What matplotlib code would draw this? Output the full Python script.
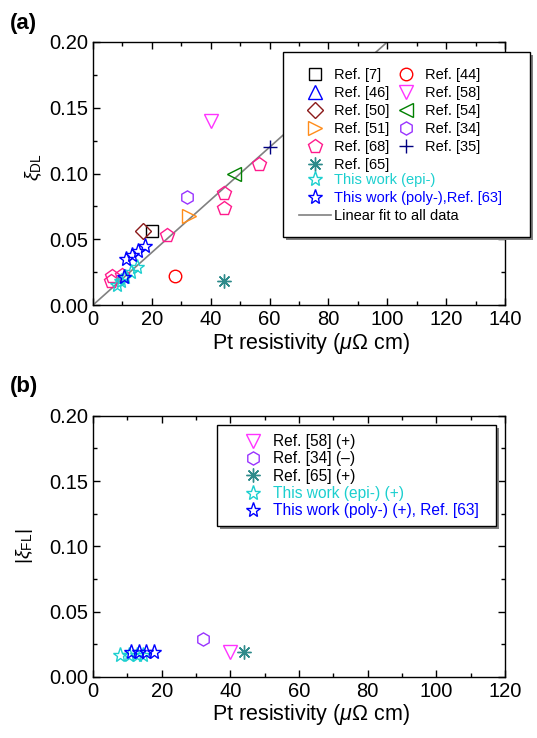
import numpy as np
import matplotlib
matplotlib.use("Agg")
import matplotlib.pyplot as plt
from matplotlib.patches import Rectangle
from matplotlib.lines import Line2D

plt.rcParams['font.family'] = ['Liberation Sans', 'DejaVu Sans']
plt.rcParams['mathtext.fontset'] = 'custom'
plt.rcParams['mathtext.rm'] = 'Liberation Sans'
plt.rcParams['mathtext.it'] = 'Liberation Sans:italic'

# ---------------- data: panel (a), damping-like efficiency
ref7_x, ref7_y = [20], [0.056]
ref46_x, ref46_y = [], []
ref50_x, ref50_y = [17], [0.056]
ref51_x, ref51_y = [32.5], [0.068]
ref68_x = [56.5, 44.5, 44.5, 25, 6.3, 6, 10]
ref68_y = [0.107, 0.085, 0.074, 0.053, 0.022, 0.018, 0.023]
ref65_x, ref65_y = [44.5], [0.018]
epi_x = [8, 9.5, 11, 12.8, 14.8]
epi_y = [0.015, 0.018, 0.021, 0.025, 0.029]
poly_x = [17.6, 15.3, 13.3, 11.2, 10.5]
poly_y = [0.045, 0.041, 0.038, 0.035, 0.021]
ref44_x, ref44_y = [28], [0.022]
ref58_x, ref58_y = [40], [0.140]
ref54_x, ref54_y = [48], [0.100]
ref34_x, ref34_y = [32], [0.082]
ref35_x, ref35_y = [60], [0.120]
fit_slope, fit_icpt = 0.002, 0.0
fit_x = [0, 100]

# ---------------- data: panel (b), field-like efficiency
b58_x, b58_y = [40], [0.019]
b34_x, b34_y = [32], [0.029]
b65_x, b65_y = [44], [0.019]
bepi_x = [8, 10.5, 12.8, 14.6]
bepi_y = [0.017, 0.017, 0.017, 0.017]
bpoly_x = [11.2, 13.3, 15.5, 17.8]
bpoly_y = [0.019, 0.019, 0.019, 0.019]

C_EPI = '#1ccfcf'
C_POLY = '#0000ff'
C_TEAL = '#2e8b8b'
C_PINK = '#ff1a8c'
C_MAG = '#ff33ff'
C_PURP = '#9933ff'

ms = 9
xlab = r'Pt resistivity ($\mu\Omega$ cm)'
W, H = 537.0, 738.0


def style_axes(ax, xmax):
    ax.set_xlim(0, xmax)
    ax.set_ylim(0, 0.2)
    ax.set_xticks(np.arange(0, xmax + 1, 20))
    ax.set_xticks(np.arange(0, xmax + 1, 10), minor=True)
    ax.set_yticks(np.arange(0, 0.201, 0.05))
    ax.set_yticks(np.arange(0, 0.201, 0.025), minor=True)
    ax.yaxis.set_major_formatter(matplotlib.ticker.FormatStrFormatter('%.2f'))
    ax.tick_params(which='both', direction='in', top=True, right=True,
                   labelsize=14.5, width=1)
    ax.tick_params(which='major', length=5)
    ax.tick_params(which='minor', length=3)
    for s in ax.spines.values():
        s.set_linewidth(1)


def pts(ax, x, y, mk, c, label, size=ms, mew=1.0):
    h, = ax.plot(x, y, linestyle='none', marker=mk, ms=size, mfc='none',
                 mec=c, mew=mew, label=label)
    return h


def box(fig, x0, y0, x1, y1):
    # white legend frame with grey drop shadow, pixel coords from top-left
    fig.patches.append(Rectangle((x0 / W + 3 / W, 1 - y1 / H - 3 / H),
                                 (x1 - x0) / W, (y1 - y0) / H,
                                 transform=fig.transFigure, facecolor='#808080',
                                 edgecolor='none', zorder=2))
    fig.patches.append(Rectangle((x0 / W, 1 - y1 / H), (x1 - x0) / W,
                                 (y1 - y0) / H, transform=fig.transFigure,
                                 facecolor='white', edgecolor='black', lw=1,
                                 zorder=3))


fig = plt.figure(figsize=(5.37, 7.38), dpi=100)
ax1 = fig.add_axes([0.1732, 0.5867, 0.7672, 0.3564])
ax2 = fig.add_axes([0.1732, 0.0827, 0.7672, 0.354])

# ---------------- panel (a)
ax1.plot(fit_x, [fit_slope * v + fit_icpt for v in fit_x], color='#808080', lw=1.2)
h7 = pts(ax1, ref7_x, ref7_y, 's', 'black', 'Ref. [7]', 8.5)
h46 = pts(ax1, ref46_x, ref46_y, '^', 'blue', 'Ref. [46]', 10)
h50 = pts(ax1, ref50_x, ref50_y, 'D', '#8b1a1a', 'Ref. [50]', 8)
h51 = pts(ax1, ref51_x, ref51_y, '>', '#ff8c1a', 'Ref. [51]', 10)
h68 = pts(ax1, ref68_x, ref68_y, 'p', C_PINK, 'Ref. [68]', 10)
h65 = pts(ax1, ref65_x, ref65_y, (8, 2, 0), C_TEAL, 'Ref. [65]', 10)
hepi = pts(ax1, epi_x, epi_y, '*', C_EPI, 'This work (epi-)', 11)
hpoly = pts(ax1, poly_x, poly_y, '*', C_POLY, 'This work (poly-),Ref. [63]', 11)
h44 = pts(ax1, ref44_x, ref44_y, 'o', 'red', 'Ref. [44]', 9)
h58 = pts(ax1, ref58_x, ref58_y, 'v', C_MAG, 'Ref. [58]', 10)
h54 = pts(ax1, ref54_x, ref54_y, '<', 'green', 'Ref. [54]', 10)
h34 = pts(ax1, ref34_x, ref34_y, 'h', C_PURP, 'Ref. [34]', 9.5)
h35 = pts(ax1, ref35_x, ref35_y, '+', '#000080', 'Ref. [35]', 10)
hfit = Line2D([], [], color='#808080', lw=1.2, label='Linear fit to all data')

style_axes(ax1, 140)
ax1.set_xlabel(xlab, fontsize=15.5)
ax1.xaxis.set_label_coords(0.53, -0.1)
ax1.set_ylabel(r'$\xi_{\rm DL}$', fontsize=14)
ax1.yaxis.set_label_coords(-0.12, 0.525)

box(fig, 283, 52, 530, 237)
lkw = dict(frameon=False, fontsize=10.5, numpoints=1, borderpad=0,
           borderaxespad=0, handlelength=2.2, handletextpad=0.2,
           labelspacing=0.28)
leg1 = fig.legend(handles=[h7, h46, h50, h51, h68, h65, h44, h58, h54, h34, h35],
                  loc='upper left', bbox_to_anchor=(299 / W, 1 - 68 / H),
                  ncol=2, columnspacing=0.05, **lkw)
leg2 = fig.legend(handles=[hepi, hpoly, hfit], loc='upper left',
                  bbox_to_anchor=(299 / W, 1 - 173 / H), **lkw)
leg1.set_zorder(6)
leg2.set_zorder(6)
leg2.get_texts()[0].set_color(C_EPI)
leg2.get_texts()[1].set_color(C_POLY)

# ---------------- panel (b)
g58 = pts(ax2, b58_x, b58_y, 'v', C_MAG, 'Ref. [58] (+)', 10)
g34 = pts(ax2, b34_x, b34_y, 'h', C_PURP, 'Ref. [34] (\u2013)', 9.5)
g65 = pts(ax2, b65_x, b65_y, (8, 2, 0), C_TEAL, 'Ref. [65] (+)', 10)
gepi = pts(ax2, bepi_x, bepi_y, '*', C_EPI, 'This work (epi-) (+)', 11)
gpoly = pts(ax2, bpoly_x, bpoly_y, '*', C_POLY, 'This work (poly-) (+), Ref. [63]', 11)

style_axes(ax2, 120)
ax2.set_xlabel(xlab, fontsize=15.5)
ax2.xaxis.set_label_coords(0.53, -0.095)
ax2.set_ylabel(r'$|\xi_{\rm FL}|$', fontsize=14)
ax2.yaxis.set_label_coords(-0.14, 0.5)

box(fig, 217, 425, 496, 526)
legb = fig.legend(handles=[g58, g34, g65, gepi, gpoly], loc='upper left',
                  bbox_to_anchor=(236 / W, 1 - 434 / H),
                  **dict(lkw, fontsize=11.2, labelspacing=0.15))
legb.set_zorder(6)
legb.get_texts()[3].set_color(C_EPI)
legb.get_texts()[4].set_color(C_POLY)

fig.text(10 / W, 1 - 29 / H, '(a)', fontsize=16, fontweight='bold')
fig.text(10 / W, 1 - 392 / H, '(b)', fontsize=16, fontweight='bold')

fig.savefig('out.png', dpi=100)
